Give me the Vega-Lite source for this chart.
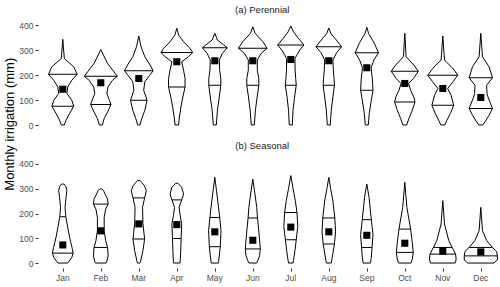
{
"$schema": "https://vega.github.io/schema/vega-lite/v6.json",
"background": "white",
"padding": {"left": 3, "top": 4, "right": 0, "bottom": 2},
"config": {
  "view": {"stroke": null},
  "font": "Liberation Sans",
  "title": {"fontSize": 9.5, "fontWeight": "normal", "color": "#1A1A1A", "offset": 6, "anchor": "middle"}
},
"title": {"text": "Monthly irrigation (mm)", "orient": "left", "anchor": "middle", "fontSize": 13, "fontWeight": "normal", "color": "black", "offset": 2, "dx": 19},
"data": {"values": [
{"t":"Perennial","m":"Jan","k":"o","y":343,"w":0},{"t":"Perennial","m":"Jan","k":"o","y":266,"w":0.08},{"t":"Perennial","m":"Jan","k":"o","y":233,"w":0.58},{"t":"Perennial","m":"Jan","k":"o","y":203,"w":0.76},{"t":"Perennial","m":"Jan","k":"o","y":179,"w":0.48},{"t":"Perennial","m":"Jan","k":"o","y":152,"w":0.26},{"t":"Perennial","m":"Jan","k":"o","y":126,"w":0.22},{"t":"Perennial","m":"Jan","k":"o","y":99,"w":0.48},{"t":"Perennial","m":"Jan","k":"o","y":75,"w":0.58},{"t":"Perennial","m":"Jan","k":"o","y":46,"w":0.36},{"t":"Perennial","m":"Jan","k":"o","y":19,"w":0.17},{"t":"Perennial","m":"Jan","k":"o","y":0,"w":0.08},
{"t":"Perennial","m":"Jan","k":"q","y":203,"w":0.76},{"t":"Perennial","m":"Jan","k":"q","y":75,"w":0.58},{"t":"Perennial","m":"Jan","k":"m","y":143,"w":0},
{"t":"Perennial","m":"Feb","k":"o","y":302,"w":0},{"t":"Perennial","m":"Feb","k":"o","y":280,"w":0.14},{"t":"Perennial","m":"Feb","k":"o","y":246,"w":0.36},{"t":"Perennial","m":"Feb","k":"o","y":213,"w":0.7},{"t":"Perennial","m":"Feb","k":"o","y":195,"w":0.88},{"t":"Perennial","m":"Feb","k":"o","y":179,"w":0.62},{"t":"Perennial","m":"Feb","k":"o","y":152,"w":0.38},{"t":"Perennial","m":"Feb","k":"o","y":126,"w":0.32},{"t":"Perennial","m":"Feb","k":"o","y":99,"w":0.46},{"t":"Perennial","m":"Feb","k":"o","y":82,"w":0.54},{"t":"Perennial","m":"Feb","k":"o","y":52,"w":0.36},{"t":"Perennial","m":"Feb","k":"o","y":26,"w":0.18},{"t":"Perennial","m":"Feb","k":"o","y":0,"w":0.08},
{"t":"Perennial","m":"Feb","k":"q","y":195,"w":0.88},{"t":"Perennial","m":"Feb","k":"q","y":82,"w":0.54},{"t":"Perennial","m":"Feb","k":"m","y":169,"w":0},
{"t":"Perennial","m":"Mar","k":"o","y":356,"w":0},{"t":"Perennial","m":"Mar","k":"o","y":313,"w":0.12},{"t":"Perennial","m":"Mar","k":"o","y":273,"w":0.32},{"t":"Perennial","m":"Mar","k":"o","y":240,"w":0.6},{"t":"Perennial","m":"Mar","k":"o","y":217,"w":0.76},{"t":"Perennial","m":"Mar","k":"o","y":199,"w":0.58},{"t":"Perennial","m":"Mar","k":"o","y":173,"w":0.32},{"t":"Perennial","m":"Mar","k":"o","y":139,"w":0.26},{"t":"Perennial","m":"Mar","k":"o","y":99,"w":0.44},{"t":"Perennial","m":"Mar","k":"o","y":59,"w":0.32},{"t":"Perennial","m":"Mar","k":"o","y":26,"w":0.16},{"t":"Perennial","m":"Mar","k":"o","y":0,"w":0.06},
{"t":"Perennial","m":"Mar","k":"q","y":217,"w":0.76},{"t":"Perennial","m":"Mar","k":"q","y":99,"w":0.44},{"t":"Perennial","m":"Mar","k":"m","y":186,"w":0},
{"t":"Perennial","m":"Apr","k":"o","y":387,"w":0},{"t":"Perennial","m":"Apr","k":"o","y":360,"w":0.1},{"t":"Perennial","m":"Apr","k":"o","y":333,"w":0.36},{"t":"Perennial","m":"Apr","k":"o","y":307,"w":0.7},{"t":"Perennial","m":"Apr","k":"o","y":290,"w":0.84},{"t":"Perennial","m":"Apr","k":"o","y":273,"w":0.62},{"t":"Perennial","m":"Apr","k":"o","y":253,"w":0.26},{"t":"Perennial","m":"Apr","k":"o","y":219,"w":0.36},{"t":"Perennial","m":"Apr","k":"o","y":186,"w":0.44},{"t":"Perennial","m":"Apr","k":"o","y":152,"w":0.44},{"t":"Perennial","m":"Apr","k":"o","y":112,"w":0.32},{"t":"Perennial","m":"Apr","k":"o","y":72,"w":0.22},{"t":"Perennial","m":"Apr","k":"o","y":32,"w":0.14},{"t":"Perennial","m":"Apr","k":"o","y":0,"w":0.09},
{"t":"Perennial","m":"Apr","k":"q","y":290,"w":0.84},{"t":"Perennial","m":"Apr","k":"q","y":152,"w":0.44},{"t":"Perennial","m":"Apr","k":"m","y":253,"w":0},
{"t":"Perennial","m":"May","k":"o","y":367,"w":0},{"t":"Perennial","m":"May","k":"o","y":340,"w":0.14},{"t":"Perennial","m":"May","k":"o","y":320,"w":0.48},{"t":"Perennial","m":"May","k":"o","y":309,"w":0.66},{"t":"Perennial","m":"May","k":"o","y":286,"w":0.4},{"t":"Perennial","m":"May","k":"o","y":260,"w":0.24},{"t":"Perennial","m":"May","k":"o","y":219,"w":0.26},{"t":"Perennial","m":"May","k":"o","y":186,"w":0.32},{"t":"Perennial","m":"May","k":"o","y":159,"w":0.32},{"t":"Perennial","m":"May","k":"o","y":112,"w":0.24},{"t":"Perennial","m":"May","k":"o","y":59,"w":0.14},{"t":"Perennial","m":"May","k":"o","y":0,"w":0.08},
{"t":"Perennial","m":"May","k":"q","y":309,"w":0.66},{"t":"Perennial","m":"May","k":"q","y":159,"w":0.32},{"t":"Perennial","m":"May","k":"m","y":257,"w":0},
{"t":"Perennial","m":"Jun","k":"o","y":393,"w":0},{"t":"Perennial","m":"Jun","k":"o","y":367,"w":0.12},{"t":"Perennial","m":"Jun","k":"o","y":333,"w":0.54},{"t":"Perennial","m":"Jun","k":"o","y":307,"w":0.76},{"t":"Perennial","m":"Jun","k":"o","y":286,"w":0.44},{"t":"Perennial","m":"Jun","k":"o","y":260,"w":0.24},{"t":"Perennial","m":"Jun","k":"o","y":219,"w":0.24},{"t":"Perennial","m":"Jun","k":"o","y":186,"w":0.32},{"t":"Perennial","m":"Jun","k":"o","y":159,"w":0.32},{"t":"Perennial","m":"Jun","k":"o","y":112,"w":0.23},{"t":"Perennial","m":"Jun","k":"o","y":59,"w":0.14},{"t":"Perennial","m":"Jun","k":"o","y":0,"w":0.08},
{"t":"Perennial","m":"Jun","k":"q","y":307,"w":0.76},{"t":"Perennial","m":"Jun","k":"q","y":159,"w":0.32},{"t":"Perennial","m":"Jun","k":"m","y":257,"w":0},
{"t":"Perennial","m":"Jul","k":"o","y":396,"w":0},{"t":"Perennial","m":"Jul","k":"o","y":373,"w":0.14},{"t":"Perennial","m":"Jul","k":"o","y":347,"w":0.4},{"t":"Perennial","m":"Jul","k":"o","y":320,"w":0.7},{"t":"Perennial","m":"Jul","k":"o","y":300,"w":0.48},{"t":"Perennial","m":"Jul","k":"o","y":266,"w":0.22},{"t":"Perennial","m":"Jul","k":"o","y":219,"w":0.23},{"t":"Perennial","m":"Jul","k":"o","y":186,"w":0.26},{"t":"Perennial","m":"Jul","k":"o","y":159,"w":0.29},{"t":"Perennial","m":"Jul","k":"o","y":112,"w":0.2},{"t":"Perennial","m":"Jul","k":"o","y":59,"w":0.12},{"t":"Perennial","m":"Jul","k":"o","y":0,"w":0.08},
{"t":"Perennial","m":"Jul","k":"q","y":320,"w":0.7},{"t":"Perennial","m":"Jul","k":"q","y":159,"w":0.29},{"t":"Perennial","m":"Jul","k":"m","y":262,"w":0},
{"t":"Perennial","m":"Aug","k":"o","y":388,"w":0},{"t":"Perennial","m":"Aug","k":"o","y":365,"w":0.12},{"t":"Perennial","m":"Aug","k":"o","y":340,"w":0.4},{"t":"Perennial","m":"Aug","k":"o","y":313,"w":0.68},{"t":"Perennial","m":"Aug","k":"o","y":290,"w":0.42},{"t":"Perennial","m":"Aug","k":"o","y":260,"w":0.22},{"t":"Perennial","m":"Aug","k":"o","y":219,"w":0.24},{"t":"Perennial","m":"Aug","k":"o","y":186,"w":0.28},{"t":"Perennial","m":"Aug","k":"o","y":159,"w":0.3},{"t":"Perennial","m":"Aug","k":"o","y":112,"w":0.22},{"t":"Perennial","m":"Aug","k":"o","y":59,"w":0.13},{"t":"Perennial","m":"Aug","k":"o","y":0,"w":0.08},
{"t":"Perennial","m":"Aug","k":"q","y":313,"w":0.68},{"t":"Perennial","m":"Aug","k":"q","y":159,"w":0.3},{"t":"Perennial","m":"Aug","k":"m","y":257,"w":0},
{"t":"Perennial","m":"Sep","k":"o","y":391,"w":0},{"t":"Perennial","m":"Sep","k":"o","y":367,"w":0.09},{"t":"Perennial","m":"Sep","k":"o","y":327,"w":0.4},{"t":"Perennial","m":"Sep","k":"o","y":289,"w":0.62},{"t":"Perennial","m":"Sep","k":"o","y":260,"w":0.38},{"t":"Perennial","m":"Sep","k":"o","y":229,"w":0.23},{"t":"Perennial","m":"Sep","k":"o","y":180,"w":0.3},{"t":"Perennial","m":"Sep","k":"o","y":139,"w":0.33},{"t":"Perennial","m":"Sep","k":"o","y":99,"w":0.24},{"t":"Perennial","m":"Sep","k":"o","y":46,"w":0.13},{"t":"Perennial","m":"Sep","k":"o","y":0,"w":0.08},
{"t":"Perennial","m":"Sep","k":"q","y":289,"w":0.62},{"t":"Perennial","m":"Sep","k":"q","y":139,"w":0.33},{"t":"Perennial","m":"Sep","k":"m","y":229,"w":0},
{"t":"Perennial","m":"Oct","k":"o","y":367,"w":0},{"t":"Perennial","m":"Oct","k":"o","y":273,"w":0.07},{"t":"Perennial","m":"Oct","k":"o","y":240,"w":0.48},{"t":"Perennial","m":"Oct","k":"o","y":215,"w":0.72},{"t":"Perennial","m":"Oct","k":"o","y":186,"w":0.46},{"t":"Perennial","m":"Oct","k":"o","y":166,"w":0.2},{"t":"Perennial","m":"Oct","k":"o","y":139,"w":0.31},{"t":"Perennial","m":"Oct","k":"o","y":112,"w":0.48},{"t":"Perennial","m":"Oct","k":"o","y":92,"w":0.54},{"t":"Perennial","m":"Oct","k":"o","y":59,"w":0.4},{"t":"Perennial","m":"Oct","k":"o","y":26,"w":0.22},{"t":"Perennial","m":"Oct","k":"o","y":0,"w":0.1},
{"t":"Perennial","m":"Oct","k":"q","y":215,"w":0.72},{"t":"Perennial","m":"Oct","k":"q","y":92,"w":0.54},{"t":"Perennial","m":"Oct","k":"m","y":166,"w":0},
{"t":"Perennial","m":"Nov","k":"o","y":356,"w":0},{"t":"Perennial","m":"Nov","k":"o","y":260,"w":0.09},{"t":"Perennial","m":"Nov","k":"o","y":226,"w":0.54},{"t":"Perennial","m":"Nov","k":"o","y":199,"w":0.8},{"t":"Perennial","m":"Nov","k":"o","y":173,"w":0.54},{"t":"Perennial","m":"Nov","k":"o","y":146,"w":0.26},{"t":"Perennial","m":"Nov","k":"o","y":119,"w":0.44},{"t":"Perennial","m":"Nov","k":"o","y":79,"w":0.58},{"t":"Perennial","m":"Nov","k":"o","y":46,"w":0.4},{"t":"Perennial","m":"Nov","k":"o","y":19,"w":0.22},{"t":"Perennial","m":"Nov","k":"o","y":0,"w":0.1},
{"t":"Perennial","m":"Nov","k":"q","y":199,"w":0.8},{"t":"Perennial","m":"Nov","k":"q","y":79,"w":0.58},{"t":"Perennial","m":"Nov","k":"m","y":146,"w":0},
{"t":"Perennial","m":"Dec","k":"o","y":367,"w":0},{"t":"Perennial","m":"Dec","k":"o","y":273,"w":0.09},{"t":"Perennial","m":"Dec","k":"o","y":233,"w":0.44},{"t":"Perennial","m":"Dec","k":"o","y":189,"w":0.62},{"t":"Perennial","m":"Dec","k":"o","y":159,"w":0.31},{"t":"Perennial","m":"Dec","k":"o","y":126,"w":0.33},{"t":"Perennial","m":"Dec","k":"o","y":108,"w":0.4},{"t":"Perennial","m":"Dec","k":"o","y":66,"w":0.62},{"t":"Perennial","m":"Dec","k":"o","y":39,"w":0.44},{"t":"Perennial","m":"Dec","k":"o","y":12,"w":0.22},{"t":"Perennial","m":"Dec","k":"o","y":0,"w":0.1},
{"t":"Perennial","m":"Dec","k":"q","y":189,"w":0.62},{"t":"Perennial","m":"Dec","k":"q","y":66,"w":0.62},{"t":"Perennial","m":"Dec","k":"m","y":110,"w":0},
{"t":"Seasonal","m":"Jan","k":"o","y":319,"w":0.06},{"t":"Seasonal","m":"Jan","k":"o","y":310,"w":0.16},{"t":"Seasonal","m":"Jan","k":"o","y":292,"w":0.22},{"t":"Seasonal","m":"Jan","k":"o","y":265,"w":0.17},{"t":"Seasonal","m":"Jan","k":"o","y":225,"w":0.12},{"t":"Seasonal","m":"Jan","k":"o","y":187,"w":0.16},{"t":"Seasonal","m":"Jan","k":"o","y":144,"w":0.26},{"t":"Seasonal","m":"Jan","k":"o","y":104,"w":0.36},{"t":"Seasonal","m":"Jan","k":"o","y":63,"w":0.49},{"t":"Seasonal","m":"Jan","k":"o","y":40,"w":0.55},{"t":"Seasonal","m":"Jan","k":"o","y":23,"w":0.48},{"t":"Seasonal","m":"Jan","k":"o","y":5,"w":0.31},{"t":"Seasonal","m":"Jan","k":"o","y":0,"w":0.26},
{"t":"Seasonal","m":"Jan","k":"q","y":187,"w":0.16},{"t":"Seasonal","m":"Jan","k":"q","y":40,"w":0.55},{"t":"Seasonal","m":"Jan","k":"m","y":73,"w":0},
{"t":"Seasonal","m":"Feb","k":"o","y":299,"w":0.06},{"t":"Seasonal","m":"Feb","k":"o","y":292,"w":0.15},{"t":"Seasonal","m":"Feb","k":"o","y":279,"w":0.22},{"t":"Seasonal","m":"Feb","k":"o","y":259,"w":0.36},{"t":"Seasonal","m":"Feb","k":"o","y":238,"w":0.39},{"t":"Seasonal","m":"Feb","k":"o","y":218,"w":0.26},{"t":"Seasonal","m":"Feb","k":"o","y":184,"w":0.18},{"t":"Seasonal","m":"Feb","k":"o","y":130,"w":0.18},{"t":"Seasonal","m":"Feb","k":"o","y":90,"w":0.26},{"t":"Seasonal","m":"Feb","k":"o","y":63,"w":0.36},{"t":"Seasonal","m":"Feb","k":"o","y":29,"w":0.39},{"t":"Seasonal","m":"Feb","k":"o","y":6,"w":0.32},{"t":"Seasonal","m":"Feb","k":"o","y":0,"w":0.28},
{"t":"Seasonal","m":"Feb","k":"q","y":238,"w":0.39},{"t":"Seasonal","m":"Feb","k":"q","y":63,"w":0.36},{"t":"Seasonal","m":"Feb","k":"m","y":130,"w":0},
{"t":"Seasonal","m":"Mar","k":"o","y":333,"w":0.06},{"t":"Seasonal","m":"Mar","k":"o","y":325,"w":0.16},{"t":"Seasonal","m":"Mar","k":"o","y":312,"w":0.3},{"t":"Seasonal","m":"Mar","k":"o","y":292,"w":0.4},{"t":"Seasonal","m":"Mar","k":"o","y":263,"w":0.31},{"t":"Seasonal","m":"Mar","k":"o","y":225,"w":0.2},{"t":"Seasonal","m":"Mar","k":"o","y":158,"w":0.22},{"t":"Seasonal","m":"Mar","k":"o","y":97,"w":0.31},{"t":"Seasonal","m":"Mar","k":"o","y":50,"w":0.22},{"t":"Seasonal","m":"Mar","k":"o","y":5,"w":0.09},{"t":"Seasonal","m":"Mar","k":"o","y":0,"w":0.06},
{"t":"Seasonal","m":"Mar","k":"q","y":263,"w":0.31},{"t":"Seasonal","m":"Mar","k":"q","y":97,"w":0.31},{"t":"Seasonal","m":"Mar","k":"m","y":158,"w":0},
{"t":"Seasonal","m":"Apr","k":"o","y":322,"w":0.06},{"t":"Seasonal","m":"Apr","k":"o","y":314,"w":0.16},{"t":"Seasonal","m":"Apr","k":"o","y":306,"w":0.26},{"t":"Seasonal","m":"Apr","k":"o","y":279,"w":0.36},{"t":"Seasonal","m":"Apr","k":"o","y":255,"w":0.26},{"t":"Seasonal","m":"Apr","k":"o","y":225,"w":0.12},{"t":"Seasonal","m":"Apr","k":"o","y":191,"w":0.18},{"t":"Seasonal","m":"Apr","k":"o","y":158,"w":0.26},{"t":"Seasonal","m":"Apr","k":"o","y":99,"w":0.23},{"t":"Seasonal","m":"Apr","k":"o","y":50,"w":0.21},{"t":"Seasonal","m":"Apr","k":"o","y":6,"w":0.18},{"t":"Seasonal","m":"Apr","k":"o","y":0,"w":0.17},
{"t":"Seasonal","m":"Apr","k":"q","y":255,"w":0.26},{"t":"Seasonal","m":"Apr","k":"q","y":99,"w":0.23},{"t":"Seasonal","m":"Apr","k":"m","y":155,"w":0},
{"t":"Seasonal","m":"May","k":"o","y":346,"w":0},{"t":"Seasonal","m":"May","k":"o","y":292,"w":0.09},{"t":"Seasonal","m":"May","k":"o","y":225,"w":0.2},{"t":"Seasonal","m":"May","k":"o","y":184,"w":0.26},{"t":"Seasonal","m":"May","k":"o","y":130,"w":0.33},{"t":"Seasonal","m":"May","k":"o","y":66,"w":0.29},{"t":"Seasonal","m":"May","k":"o","y":29,"w":0.24},{"t":"Seasonal","m":"May","k":"o","y":6,"w":0.2},{"t":"Seasonal","m":"May","k":"o","y":0,"w":0.19},
{"t":"Seasonal","m":"May","k":"q","y":184,"w":0.26},{"t":"Seasonal","m":"May","k":"q","y":66,"w":0.29},{"t":"Seasonal","m":"May","k":"m","y":126,"w":0},
{"t":"Seasonal","m":"Jun","k":"o","y":339,"w":0},{"t":"Seasonal","m":"Jun","k":"o","y":292,"w":0.09},{"t":"Seasonal","m":"Jun","k":"o","y":225,"w":0.21},{"t":"Seasonal","m":"Jun","k":"o","y":182,"w":0.25},{"t":"Seasonal","m":"Jun","k":"o","y":137,"w":0.31},{"t":"Seasonal","m":"Jun","k":"o","y":94,"w":0.36},{"t":"Seasonal","m":"Jun","k":"o","y":57,"w":0.4},{"t":"Seasonal","m":"Jun","k":"o","y":29,"w":0.36},{"t":"Seasonal","m":"Jun","k":"o","y":9,"w":0.26},{"t":"Seasonal","m":"Jun","k":"o","y":0,"w":0.2},
{"t":"Seasonal","m":"Jun","k":"q","y":182,"w":0.25},{"t":"Seasonal","m":"Jun","k":"q","y":57,"w":0.4},{"t":"Seasonal","m":"Jun","k":"m","y":92,"w":0},
{"t":"Seasonal","m":"Jul","k":"o","y":353,"w":0},{"t":"Seasonal","m":"Jul","k":"o","y":305,"w":0.11},{"t":"Seasonal","m":"Jul","k":"o","y":252,"w":0.24},{"t":"Seasonal","m":"Jul","k":"o","y":204,"w":0.33},{"t":"Seasonal","m":"Jul","k":"o","y":147,"w":0.37},{"t":"Seasonal","m":"Jul","k":"o","y":94,"w":0.29},{"t":"Seasonal","m":"Jul","k":"o","y":50,"w":0.22},{"t":"Seasonal","m":"Jul","k":"o","y":9,"w":0.14},{"t":"Seasonal","m":"Jul","k":"o","y":0,"w":0.12},
{"t":"Seasonal","m":"Jul","k":"q","y":204,"w":0.33},{"t":"Seasonal","m":"Jul","k":"q","y":94,"w":0.29},{"t":"Seasonal","m":"Jul","k":"m","y":145,"w":0},
{"t":"Seasonal","m":"Aug","k":"o","y":346,"w":0},{"t":"Seasonal","m":"Aug","k":"o","y":300,"w":0.1},{"t":"Seasonal","m":"Aug","k":"o","y":250,"w":0.22},{"t":"Seasonal","m":"Aug","k":"o","y":182,"w":0.32},{"t":"Seasonal","m":"Aug","k":"o","y":126,"w":0.36},{"t":"Seasonal","m":"Aug","k":"o","y":77,"w":0.3},{"t":"Seasonal","m":"Aug","k":"o","y":40,"w":0.22},{"t":"Seasonal","m":"Aug","k":"o","y":9,"w":0.15},{"t":"Seasonal","m":"Aug","k":"o","y":0,"w":0.13},
{"t":"Seasonal","m":"Aug","k":"q","y":182,"w":0.32},{"t":"Seasonal","m":"Aug","k":"q","y":77,"w":0.3},{"t":"Seasonal","m":"Aug","k":"m","y":126,"w":0},
{"t":"Seasonal","m":"Sep","k":"o","y":319,"w":0},{"t":"Seasonal","m":"Sep","k":"o","y":265,"w":0.12},{"t":"Seasonal","m":"Sep","k":"o","y":175,"w":0.24},{"t":"Seasonal","m":"Sep","k":"o","y":114,"w":0.33},{"t":"Seasonal","m":"Sep","k":"o","y":63,"w":0.28},{"t":"Seasonal","m":"Sep","k":"o","y":23,"w":0.24},{"t":"Seasonal","m":"Sep","k":"o","y":2,"w":0.2},{"t":"Seasonal","m":"Sep","k":"o","y":0,"w":0.2},
{"t":"Seasonal","m":"Sep","k":"q","y":175,"w":0.24},{"t":"Seasonal","m":"Sep","k":"q","y":63,"w":0.28},{"t":"Seasonal","m":"Sep","k":"m","y":112,"w":0},
{"t":"Seasonal","m":"Oct","k":"o","y":326,"w":0},{"t":"Seasonal","m":"Oct","k":"o","y":225,"w":0.11},{"t":"Seasonal","m":"Oct","k":"o","y":137,"w":0.31},{"t":"Seasonal","m":"Oct","k":"o","y":81,"w":0.4},{"t":"Seasonal","m":"Oct","k":"o","y":43,"w":0.45},{"t":"Seasonal","m":"Oct","k":"o","y":16,"w":0.4},{"t":"Seasonal","m":"Oct","k":"o","y":2,"w":0.34},{"t":"Seasonal","m":"Oct","k":"o","y":0,"w":0.33},
{"t":"Seasonal","m":"Oct","k":"q","y":137,"w":0.31},{"t":"Seasonal","m":"Oct","k":"q","y":43,"w":0.45},{"t":"Seasonal","m":"Oct","k":"m","y":80,"w":0},
{"t":"Seasonal","m":"Nov","k":"o","y":252,"w":0},{"t":"Seasonal","m":"Nov","k":"o","y":158,"w":0.09},{"t":"Seasonal","m":"Nov","k":"o","y":90,"w":0.32},{"t":"Seasonal","m":"Nov","k":"o","y":63,"w":0.5},{"t":"Seasonal","m":"Nov","k":"o","y":36,"w":0.68},{"t":"Seasonal","m":"Nov","k":"o","y":16,"w":0.71},{"t":"Seasonal","m":"Nov","k":"o","y":5,"w":0.68},{"t":"Seasonal","m":"Nov","k":"o","y":0,"w":0.66},
{"t":"Seasonal","m":"Nov","k":"q","y":63,"w":0.5},{"t":"Seasonal","m":"Nov","k":"q","y":36,"w":0.68},{"t":"Seasonal","m":"Nov","k":"m","y":48,"w":0},
{"t":"Seasonal","m":"Dec","k":"o","y":225,"w":0},{"t":"Seasonal","m":"Dec","k":"o","y":130,"w":0.09},{"t":"Seasonal","m":"Dec","k":"o","y":90,"w":0.32},{"t":"Seasonal","m":"Dec","k":"o","y":63,"w":0.62},{"t":"Seasonal","m":"Dec","k":"o","y":47,"w":0.84},{"t":"Seasonal","m":"Dec","k":"o","y":29,"w":0.88},{"t":"Seasonal","m":"Dec","k":"o","y":12,"w":0.88},{"t":"Seasonal","m":"Dec","k":"o","y":5,"w":0.76},{"t":"Seasonal","m":"Dec","k":"o","y":0,"w":0.7},
{"t":"Seasonal","m":"Dec","k":"q","y":63,"w":0.62},{"t":"Seasonal","m":"Dec","k":"q","y":29,"w":0.88},{"t":"Seasonal","m":"Dec","k":"m","y":45,"w":0}
]},
"transform": [{"stack": "w", "groupby": ["t", "m", "k", "y"], "offset": "center", "as": ["x0", "x1"]}],
"spacing": 10,
"resolve": {"scale": {"x": "independent", "y": "independent"}},
"vconcat": [
{
  "title": {"text": "(a)  Perennial", "frame": "bounds", "anchor": "middle", "dx": 3, "offset": 6},
  "transform": [{"filter": {"field": "t", "equal": "Perennial"}}],
  "facet": {"column": {"field": "m", "type": "nominal", "sort": ["Jan","Feb","Mar","Apr","May","Jun","Jul","Aug","Sep","Oct","Nov","Dec"], "header": {"title": null, "labels": false}}},
  "spacing": 0,
  "spec": {
    "width": 37.6, "height": 110,
    "layer": [
      {"transform": [{"filter": {"field": "k", "equal": "o"}}],
       "mark": {"type": "area", "orient": "horizontal", "fill": "white", "fillOpacity": 0, "stroke": "black", "strokeWidth": 1},
       "encoding": {
         "y": {"field": "y", "type": "quantitative", "scale": {"domain": [-20, 420], "nice": false, "zero": false},
               "axis": {"values": [0,100,200,300,400], "tickCount": 5, "title": null, "domain": false, "grid": false, "tickSize": 3, "tickColor": "#333333", "labelColor": "#4D4D4D", "labelFontSize": 8.5, "labelPadding": 2, "offset": 6}},
         "x": {"field": "x0", "type": "quantitative", "scale": {"domain": [-0.06, 0.94], "nice": false, "zero": false}, "axis": null},
         "x2": {"field": "x1"}}},
      {"transform": [{"filter": {"field": "k", "equal": "q"}}],
       "mark": {"type": "rule", "color": "black", "strokeWidth": 1},
       "encoding": {"y": {"field": "y", "type": "quantitative"}, "x": {"field": "x0", "type": "quantitative"}, "x2": {"field": "x1"}}},
      {"transform": [{"filter": {"field": "k", "equal": "m"}}],
       "mark": {"type": "point", "shape": "square", "filled": true, "color": "black", "opacity": 1, "size": 50},
       "encoding": {"y": {"field": "y", "type": "quantitative"}, "x": {"field": "x0", "type": "quantitative"}}}
    ]
  }
},
{
  "title": {"text": "(b)  Seasonal", "frame": "bounds", "anchor": "middle", "dx": 3, "offset": 9},
  "transform": [{"filter": {"field": "t", "equal": "Seasonal"}}],
  "facet": {"column": {"field": "m", "type": "nominal", "sort": ["Jan","Feb","Mar","Apr","May","Jun","Jul","Aug","Sep","Oct","Nov","Dec"], "header": {"title": null, "labelOrient": "bottom", "labelFontSize": 8.5, "labelColor": "#4D4D4D", "labelPadding": 2}}},
  "spacing": 0,
  "spec": {
    "width": 37.6, "height": 109,
    "layer": [
      {"transform": [{"filter": {"field": "k", "equal": "o"}}],
       "mark": {"type": "area", "orient": "horizontal", "fill": "white", "fillOpacity": 0, "stroke": "black", "strokeWidth": 1},
       "encoding": {
         "y": {"field": "y", "type": "quantitative", "scale": {"domain": [-20, 420], "nice": false, "zero": false},
               "axis": {"values": [0,100,200,300,400], "tickCount": 5, "title": null, "domain": false, "grid": false, "tickSize": 3, "tickColor": "#333333", "labelColor": "#4D4D4D", "labelFontSize": 8.5, "labelPadding": 2, "offset": 6}},
         "x": {"field": "x0", "type": "quantitative", "scale": {"domain": [-0.06, 0.94], "nice": false, "zero": false},
               "axis": {"values": [0.44], "title": null, "labels": false, "domain": false, "grid": false, "tickSize": 3, "tickColor": "#333333"}},
         "x2": {"field": "x1"}}},
      {"transform": [{"filter": {"field": "k", "equal": "q"}}],
       "mark": {"type": "rule", "color": "black", "strokeWidth": 1},
       "encoding": {"y": {"field": "y", "type": "quantitative"}, "x": {"field": "x0", "type": "quantitative"}, "x2": {"field": "x1"}}},
      {"transform": [{"filter": {"field": "k", "equal": "m"}}],
       "mark": {"type": "point", "shape": "square", "filled": true, "color": "black", "opacity": 1, "size": 50},
       "encoding": {"y": {"field": "y", "type": "quantitative"}, "x": {"field": "x0", "type": "quantitative"}}}
    ]
  }
}
]
}
